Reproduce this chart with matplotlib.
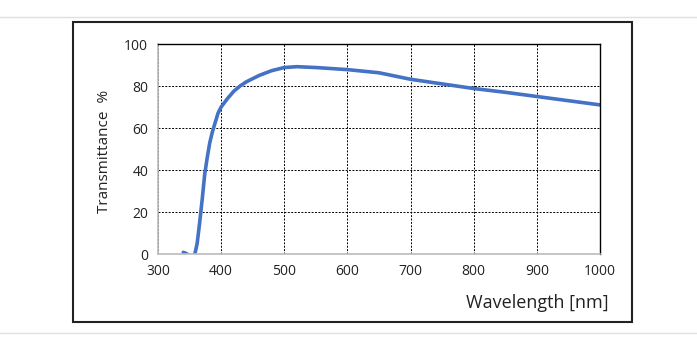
import numpy as np
import matplotlib.pyplot as plt
from matplotlib.patches import Rectangle
from matplotlib.lines import Line2D

plt.rcParams['font.family'] = ['Open Sans', 'DejaVu Sans']

# transmittance curve
wavelength = [340, 345, 350, 355, 358, 362, 366, 370, 374, 378, 382, 386, 390, 395,
              400, 410, 420, 430, 440, 460, 480, 500, 520, 550, 600, 650, 700,
              750, 800, 850, 900, 950, 1000]
transmittance = [0.8, 0.2, -1.0, -1.0, -0.5, 5, 15, 26, 38, 46, 53, 58, 62, 67,
                 70, 74, 77.5, 80, 82, 85, 87.3, 88.8, 89.2, 88.8, 87.8, 86.3, 83.2,
                 81, 78.8, 77, 75, 73, 71]

x_ticks = [300, 400, 500, 600, 700, 800, 900, 1000]
y_ticks = [0, 20, 40, 60, 80, 100]


def main():
    fig = plt.figure(figsize=(6.97, 3.46), dpi=100)
    W, H = 697, 346

    # plot area: x 158..600, y 44..254 (pixels from top)
    ax = fig.add_axes([158 / W, 1 - 254 / H, 442 / W, 210 / H])
    ax.plot(wavelength, transmittance, color='#4472C4', lw=2.6, solid_capstyle='round')
    ax.set_xlim(300, 1000)
    ax.set_ylim(0, 100)
    ax.set_xticks(x_ticks)
    ax.set_yticks(y_ticks)
    ax.grid(True, color='black', linestyle=(0, (2, 1.5)), lw=0.7)
    ax.tick_params(length=0, labelsize=10, colors='#222222', pad=7)
    for side in ['top', 'right']:
        ax.spines[side].set_color('black')
        ax.spines[side].set_linewidth(1.0)
    for side in ['left', 'bottom']:
        ax.spines[side].set_color('#bbbbbb')
        ax.spines[side].set_linewidth(1.2)
    ax.set_axisbelow(True)

    fig.text(105 / W, 1 - 151 / H, 'Transmittance  %', rotation=90, fontsize=11,
             ha='center', va='center', color='#222222')
    fig.text(537 / W, 1 - 303 / H, 'Wavelength [nm]', fontsize=13,
             ha='center', va='center', color='#222222')

    # outer frame and page separator lines
    fig.patches.append(Rectangle((73 / W, 1 - 322 / H), 559 / W, 300 / H,
                                 transform=fig.transFigure, fill=False,
                                 edgecolor='#222222', lw=1.5))
    fig.lines.append(Line2D([0, 1], [1 - 17 / H, 1 - 17 / H], transform=fig.transFigure,
                            color='#e0e0e0', lw=1))
    fig.lines.append(Line2D([0, 1], [1 - 333 / H, 1 - 333 / H], transform=fig.transFigure,
                            color='#e0e0e0', lw=1))

    plt.savefig('out.png', dpi=100)


if __name__ == "__main__":
    main()
